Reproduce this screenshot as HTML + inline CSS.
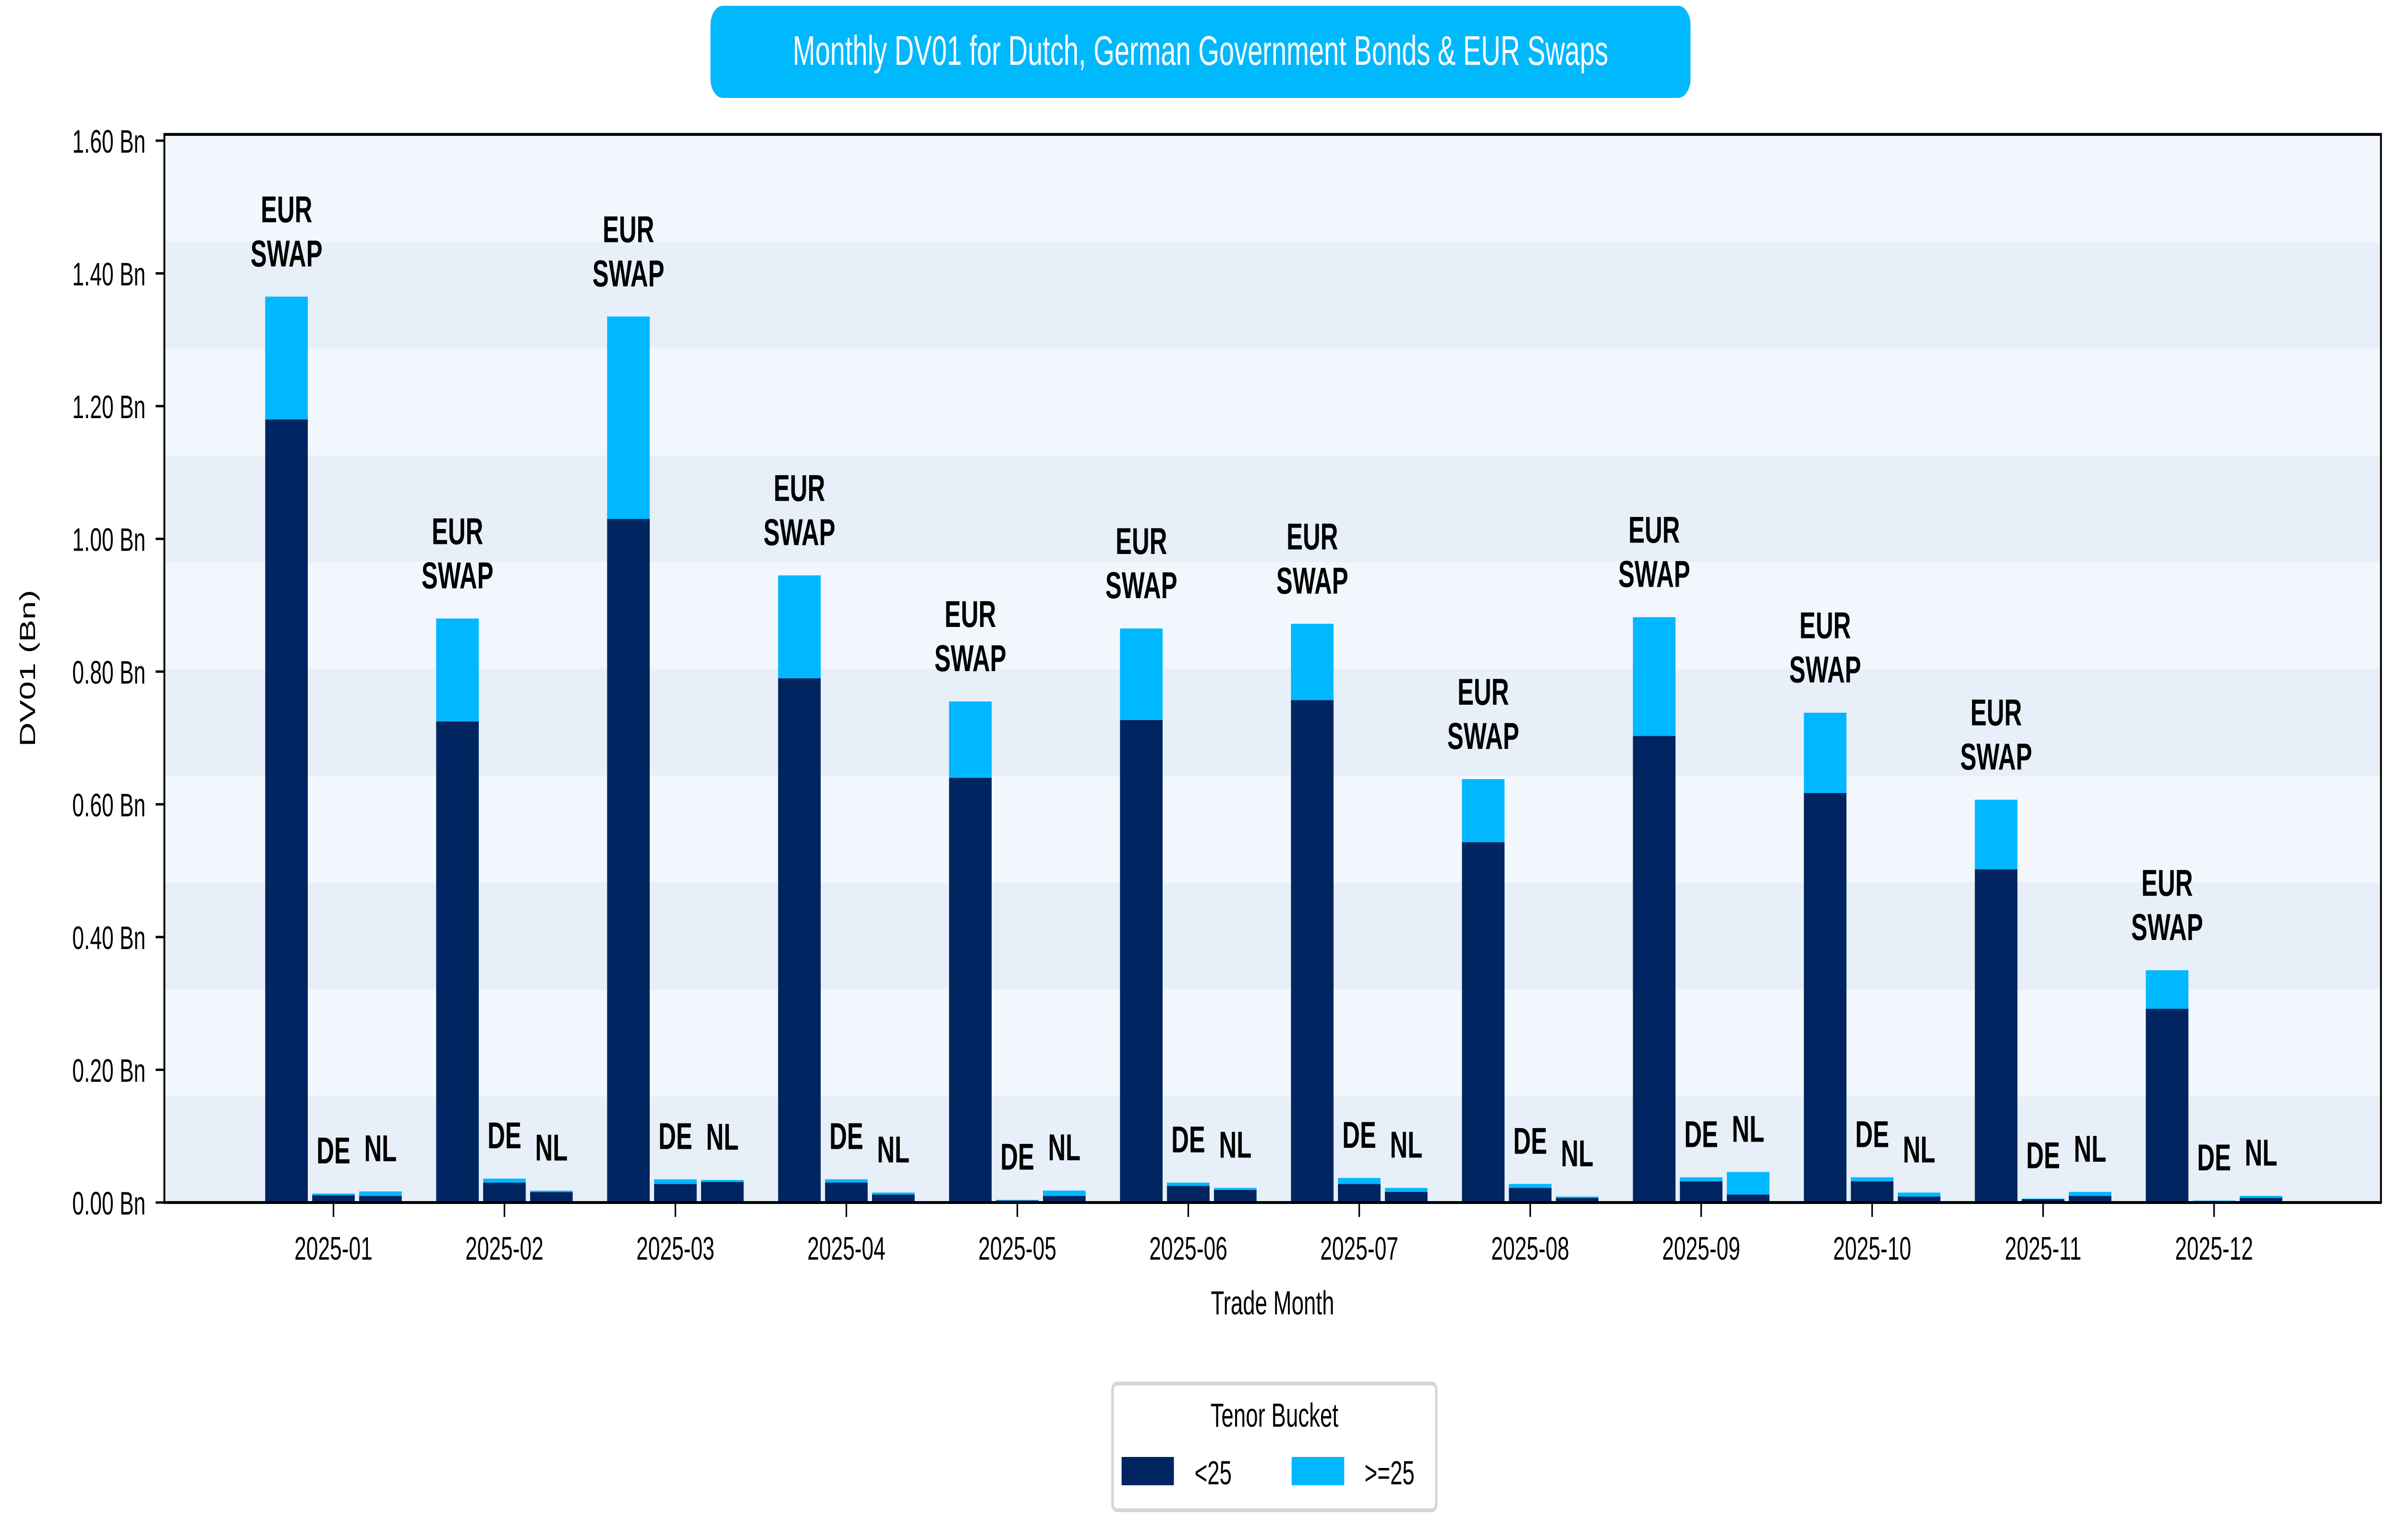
<!DOCTYPE html>
<html><head><meta charset="utf-8"><style>
html,body{margin:0;padding:0;background:#fff;width:100%;height:100%;overflow:hidden;}
svg{display:block;font-family:"Liberation Sans",sans-serif;width:100vw;height:100vh;}
</style></head><body>
<svg id="chart" viewBox="0 0 7668 3208" preserveAspectRatio="none" xmlns="http://www.w3.org/2000/svg">
<g>
<rect x="2269" y="12" width="3130" height="192" rx="40" fill="#00b8fc"/>
<text x="3834" y="135" text-anchor="middle" font-size="86" fill="#fff">Monthly DV01 for Dutch, German Government Bonds &amp; EUR Swaps</text>
</g>
<g id="bands"></g>
<g id="bars"></g>
<g id="labels"></g>
<g id="axes"></g>
<text x="4064" y="2738" text-anchor="middle" font-size="70">Trade Month</text>
<text transform="translate(112,1392) rotate(-90)" text-anchor="middle" font-size="70">DV01 (Bn)</text>
<g>
<rect x="3553" y="2882" width="1034" height="264" rx="14" fill="#fff" stroke="#d6d6d6" stroke-width="8"/>
<text x="4070" y="2972" text-anchor="middle" font-size="70">Tenor Bucket</text>
<rect x="3582" y="3035" width="167" height="59" fill="#002561"/>
<text x="3815" y="3092" font-size="70">&lt;25</text>
<rect x="4125" y="3035" width="168" height="59" fill="#00b8ff"/>
<text x="4358" y="3092" font-size="70">&gt;=25</text>
</g>
</svg>
<script>
const months = ["2025-01","2025-02","2025-03","2025-04","2025-05","2025-06","2025-07","2025-08","2025-09","2025-10","2025-11","2025-12"];
const swapLt25 = [1.18,0.725,1.03,0.79,0.64,0.727,0.757,0.543,0.703,0.617,0.502,0.292];
const swapGe25 = [0.185,0.155,0.305,0.155,0.115,0.138,0.115,0.095,0.179,0.121,0.105,0.058];
const deLt25 = [0.011,0.030,0.028,0.030,0.003,0.025,0.028,0.022,0.032,0.032,0.005,0.002];
const deGe25 = [0.0025,0.006,0.007,0.005,0.001,0.005,0.009,0.006,0.006,0.006,0.001,0.001];
const nlLt25 = [0.010,0.0158,0.031,0.012,0.010,0.019,0.016,0.007,0.012,0.009,0.010,0.007];
const nlGe25 = [0.0067,0.002,0.003,0.003,0.008,0.003,0.006,0.002,0.034,0.006,0.006,0.003];
const yTicks = [0,0.2,0.4,0.6,0.8,1.0,1.2,1.4,1.6];
const seriesNames = ["EUR\nSWAP","DE","NL"];

const NS="http://www.w3.org/2000/svg";
const X0=525, X1=7604, YT=280, YB=2505;
const y = v => YB - v/0.2*276.5;
const xc = i => 1065 + 546*i;
const offsets=[-150,0,150], BW=136;
function mk(tag, attrs, parent){const e=document.createElementNS(NS,tag);for(const k in attrs)e.setAttribute(k,attrs[k]);parent.appendChild(e);return e;}
const gBands=document.getElementById('bands'), gBars=document.getElementById('bars'), gLab=document.getElementById('labels'), gAx=document.getElementById('axes');
const bh=(YB-YT)/10;
for(let b=0;b<10;b++){
  const r=mk('rect',{x:X0,y:YB-(b+1)*bh,width:X1-X0,height:bh+1,fill:b%2===0?'#e7eff8':'#f2f7fd'},gBands);
  
  
}
const groups=[[swapLt25,swapGe25],[deLt25,deGe25],[nlLt25,nlGe25]];
months.forEach((m,i)=>{
  groups.forEach((g,s)=>{
    const a=g[0][i], b=g[1][i];
    const x=xc(i)+offsets[s]-BW/2;
    const r1=mk('rect',{x:x,y:y(a),width:BW,height:y(0)-y(a),fill:'#002561'},gBars);
    
    
    const r2=mk('rect',{x:x,y:y(a+b),width:BW,height:y(a)-y(a+b),fill:'#00b8ff'},gBars);
    
    
    const top=y(a+b)-63;
    const lines=seriesNames[s].split("\n");
    lines.forEach((ln,k)=>{
      const t=mk('text',{x:xc(i)+offsets[s],y:top-(lines.length-1-k)*92,'text-anchor':'middle','font-size':78,'font-weight':'bold'},gLab);
      t.textContent=ln;
      
      
    });
  });
  const tk=mk('line',{x1:xc(i),x2:xc(i),y1:YB,y2:YB+30,stroke:'#000','stroke-width':5},gAx);
  
  
  const tl=mk('text',{x:xc(i),y:2624,'text-anchor':'middle','font-size':68},gAx);
  tl.textContent=m;
  
  
});
yTicks.forEach(v=>{
  const tk=mk('line',{x1:X0-28,x2:X0,y1:y(v),y2:y(v),stroke:'#000','stroke-width':5},gAx);
  
  
  const tl=mk('text',{x:X0-60,y:y(v)+25,'text-anchor':'end','font-size':68},gAx);
  tl.textContent=v.toFixed(2)+" Bn";
  
  
});
const fr=mk('rect',{x:X0,y:YT,width:X1-X0,height:YB-YT,fill:'none',stroke:'#000','stroke-width':6},gAx);


</script>
</body></html>
